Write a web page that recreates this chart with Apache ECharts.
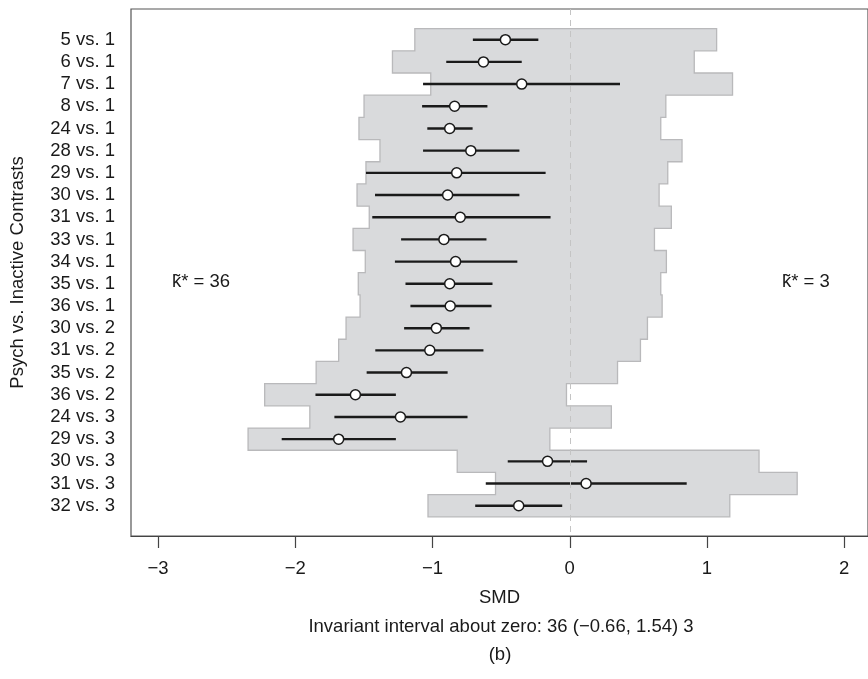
<!DOCTYPE html>
<html>
<head>
<meta charset="utf-8">
<script src="https://cdn.jsdelivr.net/npm/echarts@6/dist/echarts.min.js"></script>
<style>
  html, body { margin: 0; padding: 0; background: #fff; }
  #chart { width: 868px; height: 679px; }
</style>
</head>
<body>
<div id="chart"></div>
<script>
const rowLabels = [
  '5 vs. 1', '6 vs. 1', '7 vs. 1', '8 vs. 1', '24 vs. 1', '28 vs. 1',
  '29 vs. 1', '30 vs. 1', '31 vs. 1', '33 vs. 1', '34 vs. 1', '35 vs. 1',
  '36 vs. 1', '30 vs. 2', '31 vs. 2', '35 vs. 2', '36 vs. 2', '24 vs. 3',
  '29 vs. 3', '30 vs. 3', '31 vs. 3', '32 vs. 3'
];
const estimates = [
  -0.469, -0.629, -0.350, -0.839, -0.875, -0.721, -0.824, -0.890, -0.798, -0.917, -0.832,
  -0.875, -0.871, -0.972, -1.020, -1.190, -1.562, -1.234, -1.684, -0.162, 0.119, -0.372
];
const ciLower = [
  -0.706, -0.900, -1.069, -1.076, -1.038, -1.069, -1.485, -1.419, -1.439, -1.229, -1.274,
  -1.197, -1.161, -1.207, -1.417, -1.480, -1.853, -1.715, -2.099, -0.452, -0.612, -0.689
];
const ciUpper = [
  -0.229, -0.350, 0.366, -0.600, -0.708, -0.367, -0.176, -0.367, -0.140, -0.607, -0.382,
  -0.563, -0.570, -0.730, -0.629, -0.890, -1.267, -0.745, -1.267, 0.126, 0.852, -0.055
];
const bandLower = [
  -1.129, -1.292, -1.013, -1.499, -1.536, -1.383, -1.485, -1.550, -1.461, -1.579, -1.490,
  -1.541, -1.528, -1.630, -1.684, -1.848, -2.223, -1.894, -2.344, -0.820, -0.541, -1.033
];
const bandUpper = [
  1.070, 0.907, 1.186, 0.700, 0.663, 0.818, 0.714, 0.651, 0.740, 0.617, 0.704,
  0.663, 0.673, 0.566, 0.515, 0.348, -0.024, 0.303, -0.145, 1.379, 1.657, 1.166
];
const xTicks = [-3, -2, -1, 0, 1, 2];

const FONT = '"Liberation Sans", Arial, Helvetica, sans-serif';
const FS = 18.5;
const TXT = '#1a1a1a';

// stepped outline of the invariant-interval band: down the right edges, back up the left
const outline = [];
bandUpper.forEach((hi, i) => { outline.push([hi, i - 0.5], [hi, i + 0.5]); });
for (let i = bandLower.length - 1; i >= 0; i--) {
  outline.push([bandLower[i], i + 0.5], [bandLower[i], i - 0.5]);
}

const chart = echarts.init(document.getElementById('chart'), null, { renderer: 'canvas' });

chart.setOption({
  animation: false,
  textStyle: { fontFamily: FONT },
  grid: {
    left: 131, top: 9, width: 740, height: 527,
    show: true, borderColor: '#555', borderWidth: 1.2
  },
  xAxis: {
    type: 'value',
    min: -3.197, max: 2.173,
    name: 'SMD',
    nameLocation: 'middle',
    nameGap: 52,
    nameTextStyle: { fontSize: FS, color: TXT, fontFamily: FONT },
    axisLine: { show: true, onZero: false, lineStyle: { color: '#444', width: 1.2 } },
    axisTick: { show: true, length: 12, customValues: xTicks, lineStyle: { color: '#444', width: 1.2 } },
    axisLabel: {
      customValues: xTicks,
      margin: 23,
      fontSize: FS, color: TXT, fontFamily: FONT,
      formatter: v => String(v).replace('-', '\u2212')
    },
    splitLine: { show: false }
  },
  yAxis: {
    type: 'value',
    inverse: true,
    min: -1.383, max: 22.365,
    name: 'Psych vs. Inactive Contrasts',
    nameLocation: 'middle',
    nameGap: 104,
    nameRotate: 90,
    nameTextStyle: { fontSize: FS, color: TXT, fontFamily: FONT },
    axisLine: { show: false, onZero: false },
    axisTick: { show: false },
    splitLine: { show: false },
    axisLabel: {
      customValues: rowLabels.map((_, i) => i),
      margin: 16,
      fontSize: FS, color: TXT, fontFamily: FONT,
      formatter: v => rowLabels[Math.round(v)]
    }
  },
  series: [
    {
      type: 'custom',
      z: 1,
      data: outline,
      encode: { x: 0, y: 1 },
      renderItem: (params, api) => {
        if (params.dataIndex !== 0) return null;
        return {
          type: 'polygon',
          shape: { points: outline.map(p => api.coord(p)) },
          style: { fill: '#d9dadc', stroke: '#b9b9bb', lineWidth: 1.3 }
        };
      }
    },
    {
      type: 'line',
      z: 2,
      data: [],
      markLine: {
        silent: true,
        symbol: 'none',
        label: { show: false },
        lineStyle: { color: '#c4c4c4', type: [6, 5], width: 1 },
        data: [{ xAxis: 0 }]
      }
    },
    {
      type: 'custom',
      z: 3,
      data: ciLower.map((lo, i) => [lo, ciUpper[i], i]),
      encode: { x: [0, 1], y: 2 },
      renderItem: (params, api) => {
        const a = api.coord([api.value(0), api.value(2)]);
        const b = api.coord([api.value(1), api.value(2)]);
        return {
          type: 'line',
          shape: { x1: a[0], y1: a[1], x2: b[0], y2: b[1] },
          style: { stroke: '#1a1a1a', lineWidth: 2.4 }
        };
      }
    },
    {
      type: 'scatter',
      z: 4,
      symbol: 'circle',
      symbolSize: 10,
      itemStyle: { color: '#fff', borderColor: '#1a1a1a', borderWidth: 1.5, opacity: 1 },
      data: estimates.map((v, i) => [v, i])
    }
  ],
  graphic: [
    {
      type: 'text', left: 172, top: 272, z: 10,
      style: { text: 'k\u0303* = 36', font: FS + 'px ' + FONT, fill: TXT }
    },
    {
      type: 'text', left: 782, top: 272, z: 10,
      style: { text: 'k\u0303* = 3', font: FS + 'px ' + FONT, fill: TXT }
    },
    {
      type: 'text', x: 501, y: 627, z: 10,
      style: {
        text: 'Invariant interval about zero: 36 (\u22120.66, 1.54) 3',
        font: FS + 'px ' + FONT, fill: TXT, textAlign: 'center', textVerticalAlign: 'middle'
      }
    },
    {
      type: 'text', x: 500, y: 655, z: 10,
      style: { text: '(b)', font: FS + 'px ' + FONT, fill: TXT, textAlign: 'center', textVerticalAlign: 'middle' }
    }
  ]
});
</script>
</body>
</html>
